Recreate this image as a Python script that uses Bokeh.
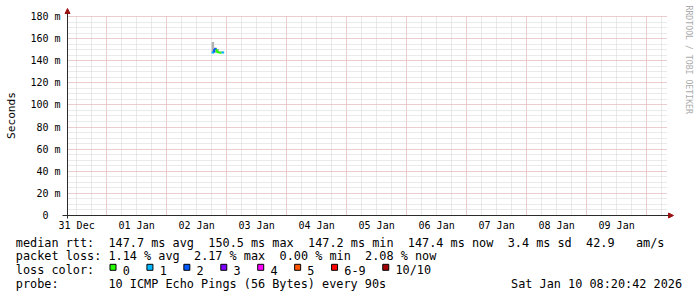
import math
from datetime import datetime, timedelta
from bokeh.plotting import figure
from bokeh.models import Range1d, FixedTicker, Grid, Arrow, NormalHead
from bokeh.embed import file_html
from bokeh.resources import INLINE
from bokeh.core.properties import value

EPOCH = datetime(1970, 1, 1)


def ms(dt):
    return (dt - EPOCH).total_seconds() * 1000.0


# ---------------- data ----------------
range_start = datetime(2025, 12, 31, 8, 20, 42)
range_end = datetime(2026, 1, 10, 8, 20, 42)

day_labels = ["31 Dec", "01 Jan", "02 Jan", "03 Jan", "04 Jan",
              "05 Jan", "06 Jan", "07 Jan", "08 Jan", "09 Jan"]
day_label_times = [datetime(2025, 12, 31, 12) + timedelta(days=i) for i in range(10)]

y_ticks = [0, 20, 40, 60, 80, 100, 120, 140, 160, 180]
y_labels = ["0\u00a0\u00a0", "20 m", "40 m", "60 m", "80 m", "100 m",
            "120 m", "140 m", "160 m", "180 m"]

sample_times = [datetime(2026, 1, 2, 18), datetime(2026, 1, 2, 19), datetime(2026, 1, 2, 20),
                datetime(2026, 1, 2, 21), datetime(2026, 1, 2, 22)]
median_ms = [147.5, 150.5, 147.6, 147.2, 147.4]
loss_count = [1, 2, 0, 0, 1]
smoke_lo = [146.8, 147.2, 147.3, 146.9, 147.0]
smoke_hi = [157.0, 152.0, 150.6, 148.6, 148.4]

loss_labels = ["0", "1", "2", "3", "4", "5", "6-9", "10/10"]
loss_colors = ["#26ff00", "#00b8ff", "#0059ff", "#7e00ff", "#ff00ff",
               "#ff5500", "#ff0000", "#a10000"]

rtt_row = ["median rtt:", "147.7 ms avg", "150.5 ms max", "147.2 ms min",
           "147.4 ms now", "3.4 ms sd", "42.9", "am/s"]
pl_row = ["packet loss:", "1.14 % avg", "2.17 % max", "0.00 % min", "2.08 % now"]
lc_title = "loss color:"
probe_row = ["probe:", "10 ICMP Echo Pings (56 Bytes) every 90s"]
timestamp = "Sat Jan 10 08:20:42 2026"
watermark = "RRDTOOL / TOBI OETIKER"
y_title = "Seconds"

# ---------------- layout constants ----------------
W, H = 697, 297
FX0, FX1, FY0, FY1 = 67, 667, 15, 215      # graph area in page pixels
T0, T1 = ms(range_start), ms(range_end)
PX_MS = (T1 - T0) / (FX1 - FX0)            # time per pixel
Y_TOP = 180.9
PX_Y = Y_TOP / (FY1 - FY0)                 # value per pixel
STEP_MS = 3600 * 1000.0
GRID_GREY = "#d4d4d4"
GRID_RED = "#eeb0b0"
AXIS_COL = "#2a2a2a"
ARROW_COL = "#9c1414"
MONO = "DejaVu Sans Mono"


def X(px):
    return T0 + (px - FX0) * PX_MS


def Y(py):
    return (FY1 - py) * PX_Y


def loss_index(c):
    if c <= 5:
        return c
    if c < 10:
        return 6
    return 7


p = figure(width=W, height=H, x_axis_type="datetime",
           x_range=Range1d(X(0), X(W)), y_range=Range1d(Y(H), Y(0)),
           output_backend="svg", toolbar_location=None, min_border=0)
p.outline_line_color = None
p.background_fill_color = "white"
p.border_fill_color = "white"
p.xgrid.visible = False
p.ygrid.visible = False

# grids
midnights = [ms(datetime(2026, 1, 1) + timedelta(days=i)) for i in range(0, 10)]
six_hours = [ms(datetime(2025, 12, 31, 12) + timedelta(hours=6 * i)) for i in range(0, 40)]
minor_y = list(range(5, 181, 5))
p.add_layout(Grid(dimension=0, ticker=FixedTicker(ticks=midnights, minor_ticks=six_hours),
                  bounds=(T0, T1), cross_bounds=(0, Y_TOP),
                  grid_line_color=GRID_RED, grid_line_dash="1 1",
                  minor_grid_line_color=GRID_GREY, minor_grid_line_dash="1 1"))
p.add_layout(Grid(dimension=1, ticker=FixedTicker(ticks=y_ticks[1:], minor_ticks=minor_y),
                  bounds=(0, Y_TOP), cross_bounds=(T0, T1),
                  grid_line_color=GRID_RED, grid_line_dash="1 1",
                  minor_grid_line_color=GRID_GREY, minor_grid_line_dash="1 1"))

# axes (drawn at fixed locations inside the full-page frame)
p.xaxis.fixed_location = 0
p.xaxis.bounds = (T0, T1)
p.yaxis.fixed_location = T0
p.yaxis.bounds = (0, Y_TOP)
p.xaxis.ticker = FixedTicker(ticks=[ms(t) for t in day_label_times])
p.xaxis.major_label_overrides = {ms(t): lab for t, lab in zip(day_label_times, day_labels)}
p.yaxis.ticker = FixedTicker(ticks=y_ticks)
p.yaxis.major_label_overrides = {t: lab for t, lab in zip(y_ticks, y_labels)}
for ax in (p.xaxis, p.yaxis):
    ax.axis_line_color = None
    ax.major_tick_line_color = None
    ax.minor_tick_line_color = None
    ax.major_tick_out = 0
    ax.major_tick_in = 0
    ax.minor_tick_out = 0
    ax.minor_tick_in = 0
    ax.major_label_text_font = MONO
    ax.major_label_text_font_size = "10px"
    ax.major_label_text_color = "black"
p.xaxis.major_label_standoff = 4
p.yaxis.major_label_standoff = 7
p.yaxis.axis_label = y_title
p.yaxis.axis_label_text_font = MONO
p.yaxis.axis_label_text_font_size = "11.2px"
p.yaxis.axis_label_text_font_style = "normal"
p.yaxis.axis_label_text_color = "black"
p.yaxis.axis_label_standoff = 9

# smoke
p.quad(left=[ms(t) for t in sample_times], right=[ms(t) + STEP_MS for t in sample_times],
       bottom=smoke_lo, top=smoke_hi, fill_color="#b2b2b2", line_color=None)

# median, coloured by loss
seg_x0, seg_x1, seg_y0, seg_y1, seg_c = [], [], [], [], []
for i, t in enumerate(sample_times):
    col = loss_colors[loss_index(loss_count[i])]
    if i > 0:
        seg_x0.append(ms(t)); seg_x1.append(ms(t))
        seg_y0.append(median_ms[i - 1]); seg_y1.append(median_ms[i])
        seg_c.append(col)
    seg_x0.append(ms(t)); seg_x1.append(ms(t) + STEP_MS)
    seg_y0.append(median_ms[i]); seg_y1.append(median_ms[i])
    seg_c.append(col)
p.segment(x0=seg_x0, y0=seg_y0, x1=seg_x1, y1=seg_y1, line_color=seg_c, line_width=2)

# axis lines with arrows
p.add_layout(Arrow(end=NormalHead(size=5, fill_color=ARROW_COL, line_color=ARROW_COL),
                   x_start=X(FX0 - 5), y_start=0, x_end=X(FX1 + 6), y_end=0,
                   line_color=AXIS_COL, line_width=1))
p.add_layout(Arrow(end=NormalHead(size=5, fill_color=ARROW_COL, line_color=ARROW_COL),
                   x_start=T0, y_start=Y(FY1 + 3), x_end=T0, y_end=Y(8),
                   line_color=AXIS_COL, line_width=1))

# watermark
p.text(x=[X(688)], y=[Y(5)], text=[watermark], angle=-math.pi / 2,
       text_align="left", text_baseline="middle", text_font=value(MONO),
       text_font_size="8.2px", text_color="#ababab")

# ---------------- legend area ----------------
FS = 11.84
ADV = 0.60205 * FS
X0 = 15.3
BASE = [242.0, 255.8, 269.6, 283.4]

tx, ty, tt = [], [], []
for txt, c in zip(rtt_row, [0, 13, 27, 41, 55, 69, 80, 87]):
    tx.append(X(X0 + c * ADV)); ty.append(Y(BASE[0])); tt.append(txt)
for txt, c in zip(pl_row, [0, 13, 25, 37, 49]):
    tx.append(X(X0 + c * ADV)); ty.append(Y(BASE[1])); tt.append(txt)
tx.append(X(X0)); ty.append(Y(BASE[2])); tt.append(lc_title)
for txt, c in zip(probe_row, [0, 13]):
    tx.append(X(X0 + c * ADV)); ty.append(Y(BASE[3])); tt.append(txt)

# loss colour swatches
sw_x, sw_c = [], []
bx = 109.0
for lab, colr in zip(loss_labels, loss_colors):
    sw_x.append(X(bx + 3.5)); sw_c.append(colr)
    lx = bx + 13.2
    tx.append(X(lx)); ty.append(Y(BASE[2])); tt.append(lab)
    bx = lx + len(lab) * ADV + 16.6
p.rect(x=sw_x, y=[Y(266.8)] * len(sw_x), width=6 * PX_MS, height=6 * PX_Y,
       fill_color=sw_c, line_color="black", line_width=1)

p.text(x=tx, y=ty, text=tt, text_font=value(MONO), text_font_size=f"{FS}px",
       text_baseline="alphabetic", text_align="left", text_color="black")
p.text(x=[X(681.5)], y=[Y(BASE[3])], text=[timestamp], text_font=value(MONO),
       text_font_size=f"{FS}px", text_baseline="alphabetic", text_align="right",
       text_color="black")

open("out.html", "w").write(file_html(p, INLINE))
